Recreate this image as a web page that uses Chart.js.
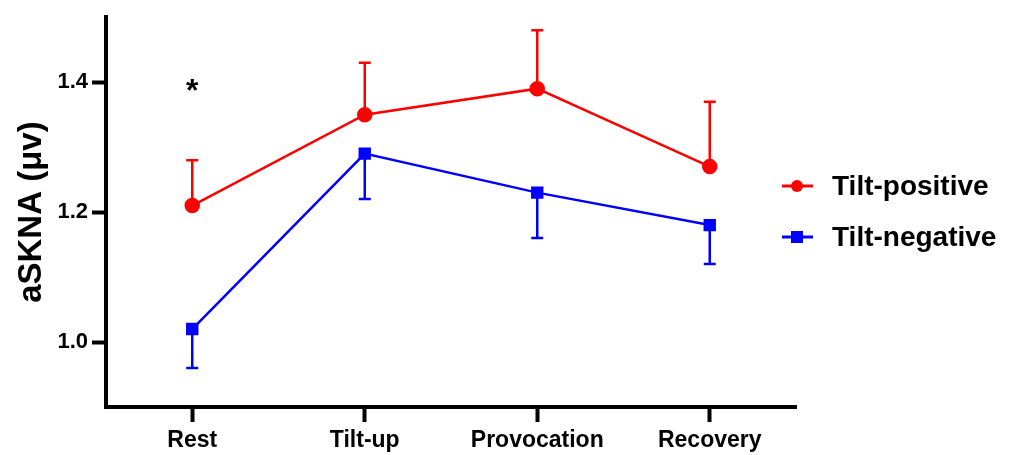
<!DOCTYPE html>
<html lang="en">
  <head>
    <meta charset="UTF-8" />
    <title>aSKNA tilt test</title>
    <style>
      body { margin: 0; background: #fff; }
      #wrap { width: 1014px; height: 455px; position: relative; }
    </style>
  </head>
  <body>
    <div id="wrap">
      <canvas id="myChart"></canvas>
    </div>

    <script src="https://cdn.jsdelivr.net/npm/chart.js"></script>
    <script>
      const phases = ["Rest", "Tilt-up", "Provocation", "Recovery"];
      const positiveMean = [1.21, 1.35, 1.39, 1.27];
      const positiveErr = [0.07, 0.08, 0.09, 0.10];
      const negativeMean = [1.02, 1.29, 1.23, 1.18];
      const negativeErr = [0.06, 0.07, 0.07, 0.06];
      const yTicks = [1.0, 1.2, 1.4];
      const significance = ["*", "", "", ""];

      const FONT = "'Liberation Sans', Arial, sans-serif";

      // one-sided error bars: up for positive, down for negative
      const errorBars = {
        id: "errorBars",
        beforeDatasetsDraw(chart) {
          const { ctx, scales } = chart;
          chart.data.datasets.forEach((ds) => {
            ctx.save();
            ctx.strokeStyle = ds.borderColor;
            ctx.lineWidth = 2.5;
            ds.data.forEach((v, i) => {
              const x = scales.x.getPixelForValue(i);
              const y0 = scales.y.getPixelForValue(v);
              const y1 = scales.y.getPixelForValue(v + ds.errDir * ds.err[i]);
              ctx.beginPath();
              ctx.moveTo(x, y0);
              ctx.lineTo(x, y1);
              ctx.moveTo(x - 6, y1);
              ctx.lineTo(x + 6, y1);
              ctx.stroke();
            });
            ctx.restore();
          });
        },
        afterDatasetsDraw(chart) {
          const { ctx, scales } = chart;
          ctx.save();
          ctx.fillStyle = "#000";
          ctx.font = "bold 32px " + FONT;
          ctx.textAlign = "center";
          ctx.textBaseline = "middle";
          significance.forEach((s, i) => {
            if (!s) return;
            ctx.fillText(s, scales.x.getPixelForValue(i), scales.y.getPixelForValue(1.385));
          });
          ctx.restore();
        },
      };

      // legend to the right: line with marker, then bold label
      const sideLegend = {
        id: "sideLegend",
        afterDraw(chart) {
          const { ctx } = chart;
          ctx.save();
          chart.data.datasets.forEach((ds, i) => {
            const cx = 797;
            const cy = 186 + i * 51;
            ctx.strokeStyle = ds.borderColor;
            ctx.fillStyle = ds.borderColor;
            ctx.lineWidth = 3;
            ctx.beginPath();
            ctx.moveTo(cx - 15, cy);
            ctx.lineTo(cx + 16, cy);
            ctx.stroke();
            if (ds.pointStyle === "circle") {
              ctx.beginPath();
              ctx.arc(cx, cy, 6, 0, Math.PI * 2);
              ctx.fill();
            } else {
              ctx.fillRect(cx - 6, cy - 6, 12, 12);
            }
            ctx.fillStyle = "#000";
            ctx.font = "bold 28px " + FONT;
            ctx.textAlign = "left";
            ctx.textBaseline = "middle";
            ctx.fillText(ds.label, 832, cy + 1);
          });
          ctx.restore();
        },
      };

      new Chart(document.getElementById("myChart"), {
        type: "line",
        data: {
          labels: phases,
          datasets: [
            {
              label: "Tilt-positive",
              data: positiveMean,
              err: positiveErr,
              errDir: 1,
              borderColor: "#ff0000",
              backgroundColor: "#ff0000",
              borderWidth: 2.5,
              pointStyle: "circle",
              pointRadius: 6.5,
              pointHoverRadius: 6.5,
            },
            {
              label: "Tilt-negative",
              data: negativeMean,
              err: negativeErr,
              errDir: -1,
              borderColor: "#0000ff",
              backgroundColor: "#0000ff",
              borderWidth: 2.5,
              pointStyle: "rect",
              pointRadius: 7,
              pointHoverRadius: 7,
            },
          ],
        },
        options: {
          responsive: true,
          maintainAspectRatio: false,
          animation: false,
          layout: { padding: { top: 13, right: 218, left: 0, bottom: 0 } },
          plugins: {
            tooltip: { enabled: false },
            legend: { display: false },
          },
          scales: {
            x: {
              offset: true,
              grid: {
                drawOnChartArea: false,
                drawTicks: true,
                tickLength: 15,
                tickWidth: 4,
                color: "#000",
              },
              border: { color: "#000", width: 4 },
              ticks: {
                color: "#000",
                padding: 5,
                font: { family: FONT, size: 23, weight: "bold" },
              },
              afterFit(scale) {
                scale.height = 48;
              },
            },
            y: {
              min: 0.9,
              max: 1.5,
              afterBuildTicks(scale) {
                scale.ticks = yTicks.map((v) => ({ value: v }));
              },
              grid: {
                drawOnChartArea: false,
                drawTicks: true,
                tickLength: 14,
                tickWidth: 4,
                color: "#000",
              },
              border: { color: "#000", width: 4 },
              ticks: {
                color: "#000",
                padding: 4,
                font: { family: FONT, size: 22, weight: "bold" },
                callback: (v) => Number(v).toFixed(1),
              },
              title: {
                display: true,
                text: "aSKNA (\u03bcv)",
                color: "#000",
                font: { family: FONT, size: 33, weight: "bold" },
                padding: { top: 12, bottom: 0 },
              },
              afterFit(scale) {
                scale.width = 106;
              },
            },
          },
        },
        plugins: [errorBars, sideLegend],
      });
    </script>
  </body>
</html>
